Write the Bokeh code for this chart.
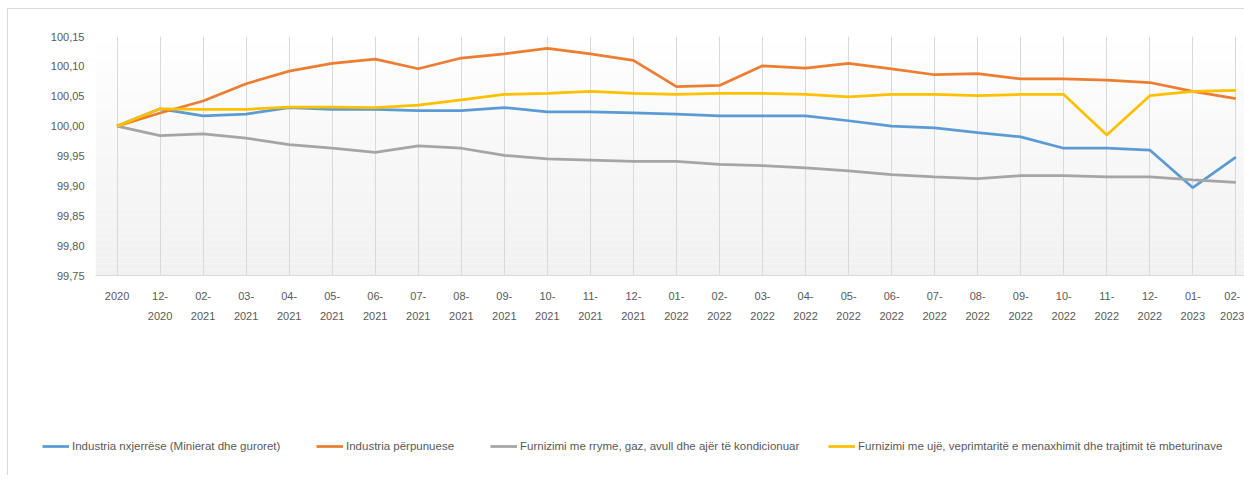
from bokeh.plotting import figure
from bokeh.models import Range1d, FixedTicker, Legend, LegendItem
from bokeh.layouts import column
from bokeh.embed import file_html
from bokeh.resources import INLINE

# ---- data ----
categories = ["2020", "12-2020", "02-2021", "03-2021", "04-2021", "05-2021", "06-2021",
              "07-2021", "08-2021", "09-2021", "10-2021", "11-2021", "12-2021",
              "01-2022", "02-2022", "03-2022", "04-2022", "05-2022", "06-2022",
              "07-2022", "08-2022", "09-2022", "10-2022", "11-2022", "12-2022",
              "01-2023", "02-2023"]

industria_nxjerrese = [100.000, 100.029, 100.017, 100.020, 100.031, 100.028, 100.028,
                       100.026, 100.026, 100.031, 100.024, 100.024, 100.022,
                       100.020, 100.017, 100.017, 100.017, 100.009, 100.000,
                       99.997, 99.989, 99.982, 99.963, 99.963, 99.960,
                       99.897, 99.948]
industria_perpunuese = [100.000, 100.022, 100.042, 100.071, 100.092, 100.105, 100.112,
                        100.096, 100.114, 100.121, 100.130, 100.121, 100.110,
                        100.066, 100.068, 100.101, 100.097, 100.105, 100.096,
                        100.086, 100.088, 100.079, 100.079, 100.077, 100.073,
                        100.058, 100.046]
furnizimi_rryme = [100.000, 99.984, 99.987, 99.980, 99.969, 99.963, 99.956,
                   99.967, 99.963, 99.951, 99.945, 99.943, 99.941,
                   99.941, 99.936, 99.934, 99.930, 99.925, 99.919,
                   99.915, 99.912, 99.917, 99.917, 99.915, 99.915,
                   99.910, 99.906]
furnizimi_uje = [100.000, 100.029, 100.028, 100.028, 100.032, 100.032, 100.031,
                 100.035, 100.044, 100.053, 100.055, 100.058, 100.055,
                 100.053, 100.055, 100.055, 100.053, 100.049, 100.053,
                 100.053, 100.051, 100.053, 100.053, 99.985, 100.051,
                 100.058, 100.060]

series_names = ["Industria nxjerrëse (Minierat dhe guroret)",
                "Industria përpunuese",
                "Furnizimi me rryme, gaz, avull dhe ajër të kondicionuar",
                "Furnizimi me ujë, veprimtaritë e menaxhimit dhe trajtimit të mbeturinave"]
series_values = [industria_nxjerrese, industria_perpunuese, furnizimi_rryme, furnizimi_uje]
series_colors = ["#5B9BD5", "#ED7D31", "#A5A5A5", "#FFC000"]

y_ticks = [99.75, 99.80, 99.85, 99.90, 99.95, 100.00, 100.05, 100.10, 100.15]
y_tick_labels = ["99,75", "99,80", "99,85", "99,90", "99,95", "100,00", "100,05", "100,10", "100,15"]

FONT = "Liberation Sans"
TXT = "#595959"

x_idx = list(range(len(categories)))
x_labels = {i: (c if "-" not in c else c.replace("-", "-\n")) for i, c in enumerate(categories)}

W = 1236
p = figure(width=W, height=336, output_backend="svg", toolbar_location=None,
           x_range=Range1d(-0.5, 26.2), y_range=Range1d(y_ticks[0], y_ticks[-1]),
           min_border_left=87, min_border_right=0, min_border_top=27, min_border_bottom=70,
           background_fill_color="white", border_fill_color="white",
           outline_line_color=None)
p.frame_align = False

# gradient plot-area background (decoration)
n = 40
y0, y1 = y_ticks[0], y_ticks[-1]
step = (y1 - y0) / n
bottoms = [y0 + i * step for i in range(n)]
tops = [b + step for b in bottoms]
cols = []
for i in range(n):
    t = (n - 1 - i) / (n - 1)  # 0 at top .. 1 at bottom
    g = int(round(255 - 14 * (t ** 0.9)))
    cols.append("#%02x%02x%02x" % (g, g, g))
p.quad(left=-0.5, right=27, bottom=bottoms, top=tops, fill_color=cols, line_color=None, level="image")

# axes
p.xaxis.ticker = FixedTicker(ticks=x_idx)
p.xaxis.major_label_overrides = x_labels
p.xaxis.axis_line_color = "#d9d9d9"
p.xaxis.major_tick_line_color = None
p.xaxis.minor_tick_line_color = None
p.xaxis.major_label_text_font = FONT
p.xaxis.major_label_text_font_size = "11px"
p.xaxis.major_label_text_color = TXT
p.xaxis.major_label_standoff = 8
p.xaxis.major_label_text_line_height = 1.7

p.yaxis.ticker = FixedTicker(ticks=y_ticks)
p.yaxis.major_label_overrides = {v: l for v, l in zip(y_ticks, y_tick_labels)}
p.yaxis.axis_line_color = None
p.yaxis.major_tick_line_color = None
p.yaxis.minor_tick_line_color = None
p.yaxis.major_label_text_font = FONT
p.yaxis.major_label_text_font_size = "11px"
p.yaxis.major_label_text_color = TXT
p.yaxis.major_label_standoff = 5

p.ygrid.grid_line_color = None
p.xgrid.ticker = FixedTicker(ticks=x_idx)
p.xgrid.grid_line_color = "#d9d9d9"

for name, vals, col in zip(series_names, series_values, series_colors):
    p.line(x_idx, vals, line_color=col, line_width=2.75)

# ---- legend strip (separate figure so the legend can sit anywhere) ----
p2 = figure(width=W, height=130, output_backend="svg", toolbar_location=None,
            x_range=Range1d(0, 1), y_range=Range1d(0, 1),
            x_axis_location=None, y_axis_location=None,
            min_border_left=0, min_border_right=0, min_border_top=0, min_border_bottom=0,
            background_fill_color="white", border_fill_color="white",
            outline_line_color=None)
p2.frame_align = False
p2.grid.visible = False

legend_x = [34, 308, 482, 820]
for name, vals, col, lx in zip(series_names, series_values, series_colors, legend_x):
    r = p2.line(x_idx, vals, line_color=col, line_width=2.75)
    lg = Legend(items=[LegendItem(label=name, renderers=[r])], location=(lx, 22),
                border_line_color=None, background_fill_alpha=0,
                label_text_font=FONT, label_text_font_size="11.5px", label_text_color=TXT,
                glyph_width=27, glyph_height=14, label_standoff=3,
                padding=0, margin=0)
    p2.add_layout(lg, "center")

layout = column(p, p2, spacing=0,
                styles={"margin-left": "7px", "margin-top": "8px",
                        "border-left": "1px solid #d9d9d9", "border-top": "1px solid #d9d9d9"})

open("out.html", "w").write(file_html(layout, INLINE))
